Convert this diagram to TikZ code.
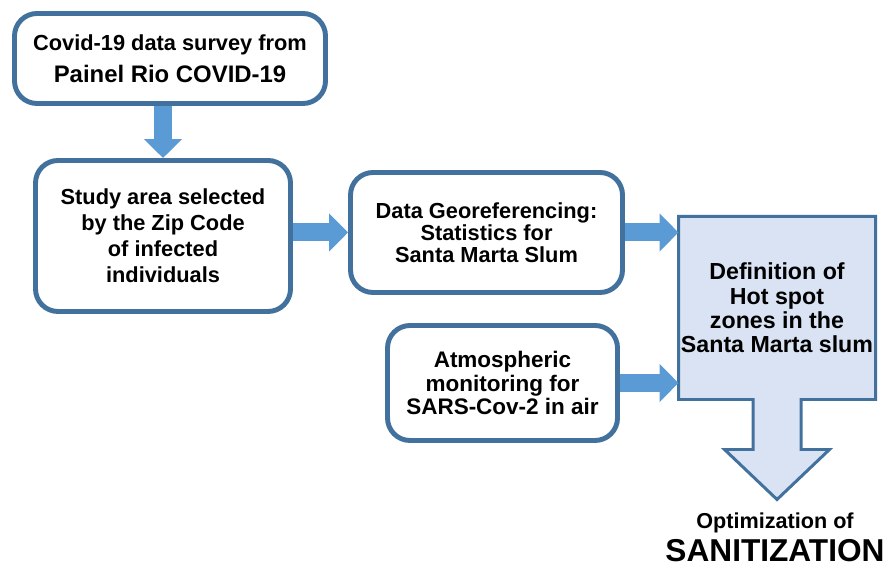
\documentclass[tikz,border=0pt]{standalone}
\usepackage{fontspec}
\setmainfont{Liberation Sans}
\usetikzlibrary{arrows.meta,calc,backgrounds}
\definecolor{boxline}{HTML}{41719C}
\definecolor{arrowblue}{HTML}{5B9BD5}
\definecolor{hotfill}{HTML}{DAE3F3}
\tikzset{
   stepbox/.style={draw=boxline, line width=2.8pt, rounded corners=0.45cm, fill=white,
      align=center, inner sep=2pt, font=\bfseries\fontsize{12.4}{14.5}\selectfont},
   fatarrow/.style={arrowblue, line width=0.36cm, -{Triangle[width=0.74cm,length=0.38cm]}},
   hotline/.style={draw=boxline, line width=1.7pt, fill=hotfill, line join=miter},
}

\begin{document}
\begin{tikzpicture}
		\useasboundingbox (0,0) rectangle (17.76,11.38);

		% Boxes
		\node[stepbox, minimum width=6.22cm, minimum height=1.8cm] (survey) at (3.40,10.21)
			{Covid-19 data survey from\\[3.5pt]{\fontsize{13.6}{16}\selectfont Painel Rio COVID-19}};
		\node[stepbox, minimum width=5.1cm, minimum height=3.02cm,
			font=\bfseries\fontsize{12.4}{14.8}\selectfont] (study) at (3.26,6.66)
			{Study area selected\\by the Zip Code\\of infected\\individuals};
		\node[stepbox, minimum width=5.44cm, minimum height=2.4cm,
			font=\bfseries\fontsize{12.4}{12.6}\selectfont] (geo) at (9.73,6.73)
			{Data Georeferencing:\\Statistics for\\Santa Marta Slum};
		\node[stepbox, minimum width=4.6cm, minimum height=2.3cm,
			font=\bfseries\fontsize{12.8}{13.4}\selectfont] (atm) at (10.05,3.72)
			{Atmospheric\\monitoring for\\SARS-Cov-2 in air};
		\node[align=center, inner sep=0pt, outer sep=0pt, minimum width=3.94cm, minimum height=3.66cm,
			font=\bfseries\fontsize{13.2}{13.9}\selectfont] (hot) at (15.54,5.22)
			{Definition of\\Hot spot\\zones in the\\Santa Marta slum};
		\node[align=center, inner sep=0pt, font=\bfseries\fontsize{12.3}{19}\selectfont] (result) at (15.5,0.63)
			{Optimization of\\{\fontsize{18}{20}\selectfont SANITIZATION}};

		% Hot spot box with its down arrow
		\begin{scope}[on background layer]
		\filldraw[hotline] (hot.south west) -- (hot.north west) -- (hot.north east) -- (hot.south east)
			-- ($(hot.south)+(0.48,0)$) -- ++(0,-1.0) -- ++(0.57,0) -- ($(hot.south)+(0,-2.0)$)
			-- ($(hot.south)+(-1.05,-1.0)$) -- ++(0.57,0) -- ($(hot.south)+(-0.48,0)$) -- cycle;
		\end{scope}

		% Arrows
		\draw[fatarrow] (survey.south -| study.north) -- (study.north);
		\draw[fatarrow] (study.east |- geo.west) -- (geo.west);
		\draw[fatarrow] (geo.east) -- (geo.east -| hot.west);
		\draw[fatarrow] (atm.east) -- (atm.east -| hot.west);
	\end{tikzpicture}
\end{document}
